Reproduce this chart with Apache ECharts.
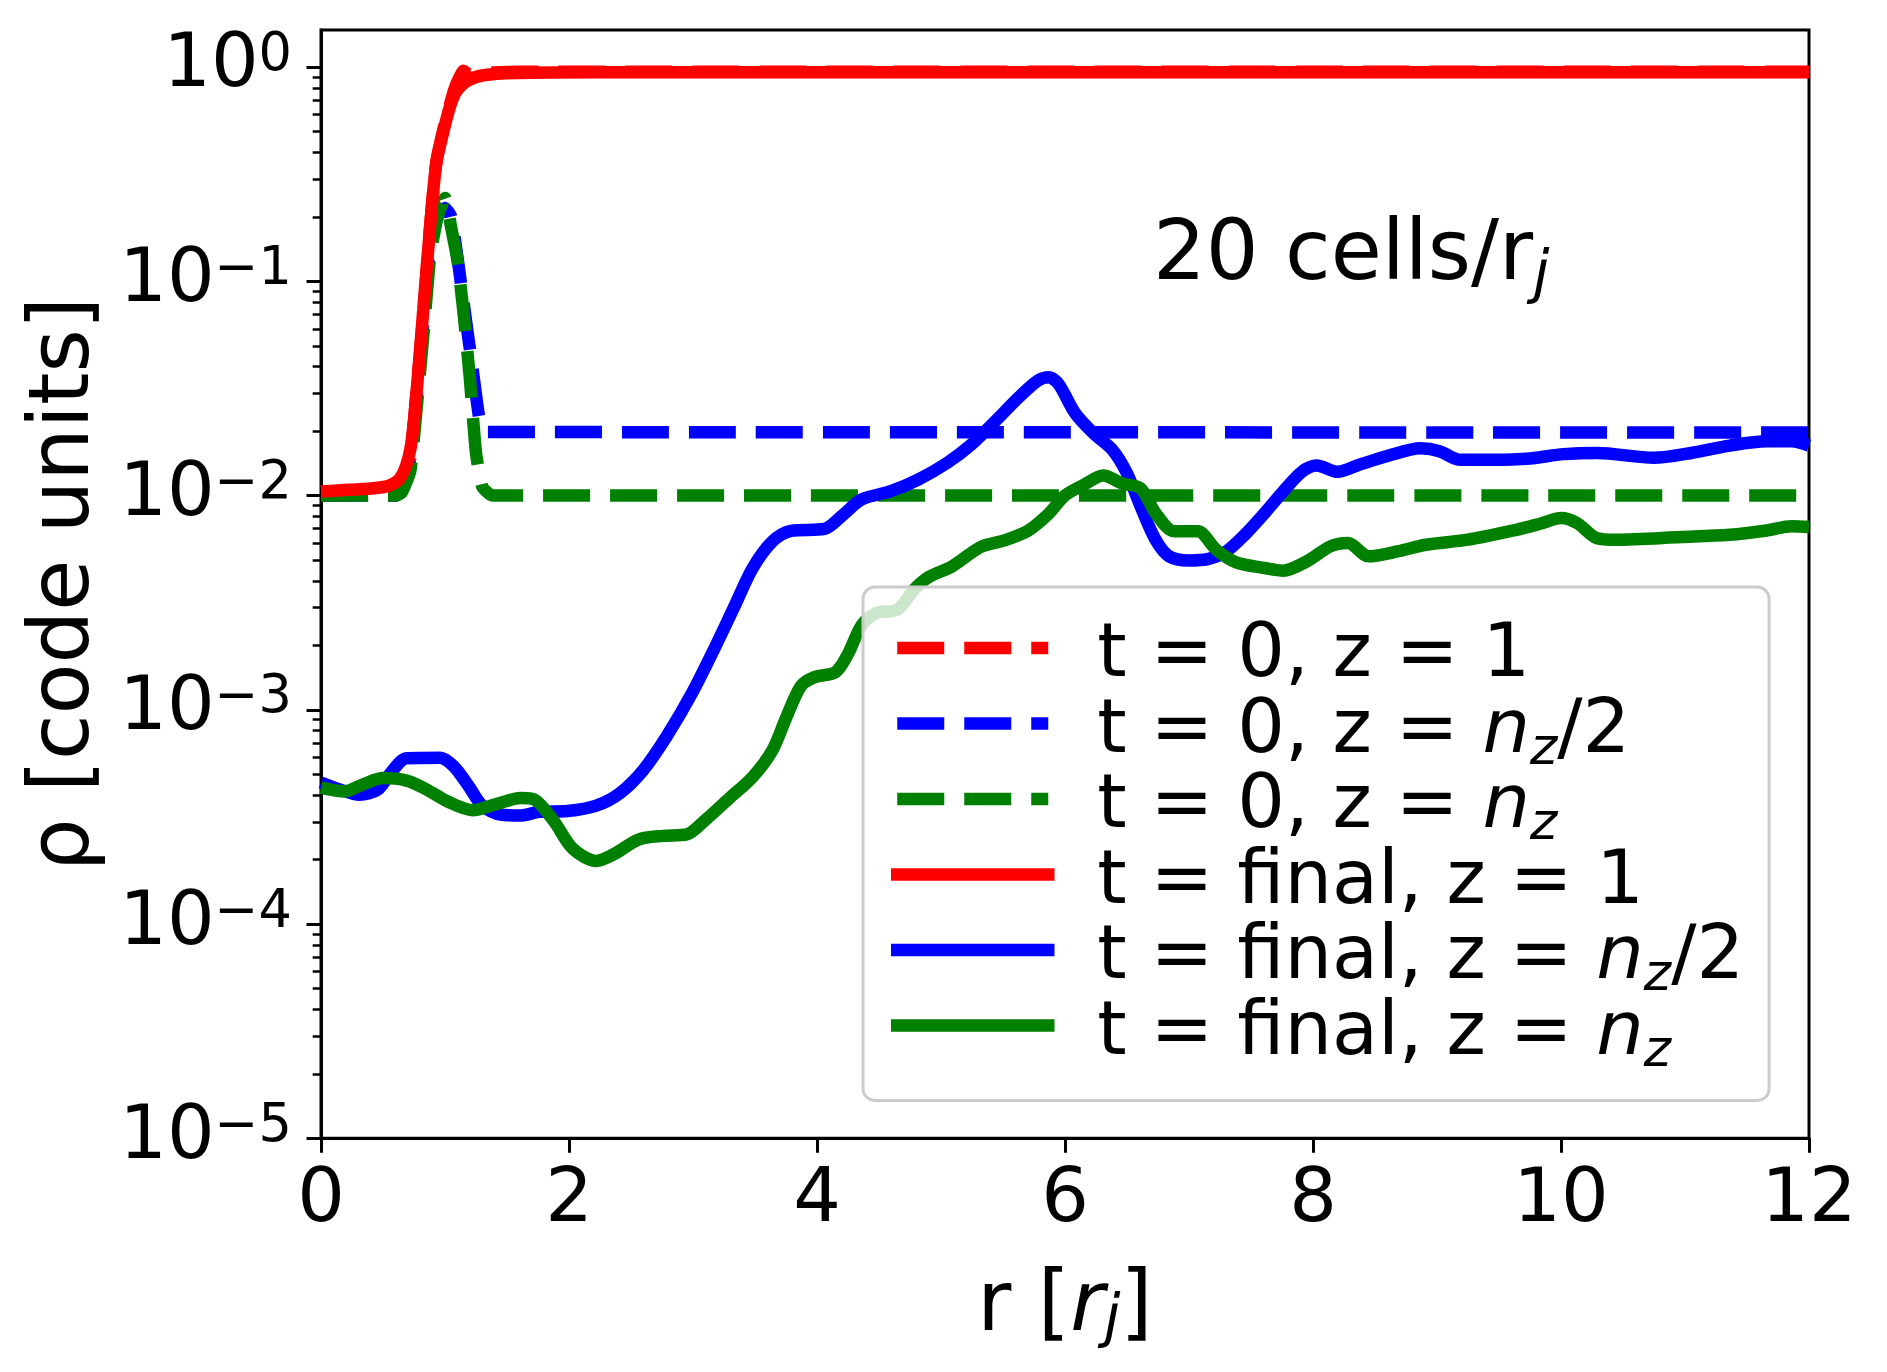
<!DOCTYPE html>
<html>
<head>
<meta charset="utf-8">
<script src="https://cdn.jsdelivr.net/npm/echarts@6/dist/echarts.min.js"></script>
<style>
html,body{margin:0;padding:0;background:#fff;}
#chart{width:1887px;height:1372px;}
</style>
</head>
<body>
<div id="chart"></div>
<script>
// ---------- data (r in r_j, rho in code units) ----------
const rRedInit   = [0, 0.6, 0.65, 0.72, 0.77, 0.83, 0.88, 0.93, 1.0, 1.08, 1.15, 1.2, 1.3, 1.6, 12];
const rhoRedInit = [0.0100, 0.0102, 0.0110, 0.0150, 0.0300, 0.0750, 0.180, 0.360, 0.550, 0.800, 0.960, 0.920, 0.940, 0.950, 0.950];

const rBlueInit   = [0, 0.6, 0.65, 0.72, 0.77, 0.83, 0.88, 0.94, 1.0, 1.05, 1.1, 1.15, 1.22, 1.28, 1.33, 12];
const rhoBlueInit = [0.01, 0.01, 0.0105, 0.015, 0.028, 0.07, 0.14, 0.2, 0.22, 0.2, 0.13, 0.079, 0.040, 0.0224, 0.0198, 0.0197];

const rGreenInit   = [0, 0.6, 0.65, 0.72, 0.77, 0.83, 0.88, 0.94, 1.0, 1.05, 1.1, 1.15, 1.2, 1.25, 1.3, 1.38, 12];
const rhoGreenInit = [0.01, 0.01, 0.0103, 0.013, 0.025, 0.06, 0.13, 0.2, 0.245, 0.178, 0.126, 0.0708, 0.0355, 0.0158, 0.011, 0.01, 0.01];

const rRedFinal   = [0, 0.23, 0.53, 0.64, 0.72, 0.77, 0.825, 0.88, 0.93, 0.99, 1.04, 1.09, 1.175, 1.31, 1.58, 2.25, 12];
const rhoRedFinal = [0.01045, 0.01064, 0.01104, 0.01208, 0.01637, 0.0302, 0.0736, 0.180, 0.356, 0.508, 0.653, 0.767, 0.860, 0.915, 0.938, 0.945, 0.945];

const rBlueFinal = [0, 0.15, 0.31, 0.46, 0.57, 0.69, 0.96, 1.07, 1.19, 1.30, 1.45, 1.61, 1.76, 1.99, 2.22, 2.41, 2.60, 2.79, 2.99, 3.18, 3.33, 3.48, 3.64, 3.79, 4.06, 4.21, 4.36, 4.59, 4.82, 5.05, 5.24, 5.43, 5.63, 5.78, 5.87, 5.95, 6.08, 6.23, 6.38, 6.50, 6.61, 6.73, 6.84, 7.0, 7.15, 7.30, 7.45, 7.61, 7.76, 7.91, 8.03, 8.20, 8.37, 8.60, 8.87, 9.02, 9.18, 9.44, 9.75, 10.02, 10.29, 10.75, 11.05, 11.36, 11.66, 11.86, 12.0];
const rhoBlueFinal = [4.58e-4, 4.25e-4, 4.01e-4, 4.25e-4, 5.14e-4, 5.94e-4, 5.98e-4, 5.45e-4, 4.41e-4, 3.57e-4, 3.24e-4, 3.21e-4, 3.34e-4, 3.37e-4, 3.57e-4, 4.08e-4, 5.24e-4, 7.55e-4, 1.19e-3, 1.97e-3, 3.00e-3, 4.57e-3, 6.10e-3, 6.84e-3, 6.98e-3, 8.13e-3, 9.59e-3, 1.045e-2, 1.19e-2, 1.42e-2, 1.72e-2, 2.20e-2, 2.88e-2, 3.43e-2, 3.56e-2, 3.30e-2, 2.43e-2, 1.95e-2, 1.64e-2, 1.27e-2, 8.89e-3, 6.22e-3, 5.20e-3, 4.98e-3, 5.05e-3, 5.48e-3, 6.56e-3, 8.28e-3, 1.045e-2, 1.29e-2, 1.38e-2, 1.29e-2, 1.39e-2, 1.53e-2, 1.66e-2, 1.61e-2, 1.47e-2, 1.47e-2, 1.49e-2, 1.56e-2, 1.58e-2, 1.50e-2, 1.58e-2, 1.71e-2, 1.79e-2, 1.79e-2, 1.71e-2];

const rGreenFinal = [0, 0.19, 0.34, 0.50, 0.69, 0.84, 1.03, 1.22, 1.42, 1.61, 1.72, 1.88, 2.03, 2.22, 2.37, 2.56, 2.76, 2.95, 3.10, 3.29, 3.48, 3.64, 3.75, 3.87, 3.98, 4.15, 4.25, 4.36, 4.48, 4.65, 4.78, 4.90, 5.09, 5.32, 5.51, 5.70, 5.86, 6.0, 6.15, 6.31, 6.46, 6.61, 6.73, 6.88, 7.07, 7.22, 7.38, 7.61, 7.76, 7.95, 8.14, 8.28, 8.45, 8.68, 8.91, 9.25, 9.64, 9.83, 10.0, 10.13, 10.29, 10.44, 10.97, 11.36, 11.66, 11.86, 12.0];
const rhoGreenFinal = [4.33e-4, 4.16e-4, 4.49e-4, 4.80e-4, 4.67e-4, 4.28e-4, 3.71e-4, 3.40e-4, 3.64e-4, 3.88e-4, 3.81e-4, 3.01e-4, 2.25e-4, 1.97e-4, 2.13e-4, 2.48e-4, 2.58e-4, 2.62e-4, 3.06e-4, 3.85e-4, 4.85e-4, 6.47e-4, 9.14e-4, 1.29e-3, 1.42e-3, 1.50e-3, 1.82e-3, 2.48e-3, 2.83e-3, 2.94e-3, 3.63e-3, 4.16e-3, 4.67e-3, 5.75e-3, 6.17e-3, 6.84e-3, 8.13e-3, 1.0e-2, 1.12e-2, 1.24e-2, 1.14e-2, 1.08e-2, 8.28e-3, 6.81e-3, 6.81e-3, 5.58e-3, 4.88e-3, 4.59e-3, 4.46e-3, 4.93e-3, 5.79e-3, 6.00e-3, 5.20e-3, 5.48e-3, 5.89e-3, 6.22e-3, 6.92e-3, 7.38e-3, 7.85e-3, 7.43e-3, 6.32e-3, 6.22e-3, 6.40e-3, 6.56e-3, 6.87e-3, 7.18e-3, 7.13e-3];

const seriesNames = ['t = 0, z = 1', 't = 0, z = nz/2', 't = 0, z = nz', 't = final, z = 1', 't = final, z = nz/2', 't = final, z = nz'];
const yMajorTicks = [1e-5, 1e-4, 1e-3, 1e-2, 1e-1, 1];
const yMinorTicks = [];
for (let e = -5; e <= 0; e++) { for (let k = 2; k <= 9; k++) { const v = k * Math.pow(10, e); if (v < 1.48) yMinorTicks.push(+v.toPrecision(3)); } }

// ---------- chart ----------
const FONT = 'DejaVu Sans';
const zip = (xs, ys) => xs.map((x, i) => [x, ys[i]]);
const DASH = [47, 20];
const LW = 12.5;

function mkSeries(name, xs, ys, color, dashed) {
  return {
    name: name, type: 'line', data: zip(xs, ys),
    showSymbol: false, symbol: 'none',
    smooth: dashed ? 0.15 : 0.3,
    lineStyle: { color: color, width: LW, type: dashed ? DASH : 'solid' },
    itemStyle: { color: color },
    emphasis: { disabled: true }, animation: false, clip: true
  };
}

const legendRich = {
  p: { width: 44 },
  t: { fontSize: 75, fontFamily: FONT, color: '#000', lineHeight: 75, padding: [18, 0, 0, 0] },
  i: { fontSize: 75, fontFamily: FONT, fontStyle: 'italic', color: '#000', lineHeight: 75, padding: [18, 0, 0, 0] },
  s: { fontSize: 52, fontFamily: FONT, fontStyle: 'italic', color: '#000', lineHeight: 40, height: 22, verticalAlign: 'bottom' }
};
const legendText = {
  't = 0, z = 1': '{p|}{t|t = 0, z = 1}',
  't = 0, z = nz/2': '{p|}{t|t = 0, z = }{i|n}{s|z}{t|/2}',
  't = 0, z = nz': '{p|}{t|t = 0, z = }{i|n}{s|z}',
  't = final, z = 1': '{p|}{t|t = final, z = 1}',
  't = final, z = nz/2': '{p|}{t|t = final, z = }{i|n}{s|z}{t|/2}',
  't = final, z = nz': '{p|}{t|t = final, z = }{i|n}{s|z}'
};

const chart = echarts.init(document.getElementById('chart'), null, { renderer: 'canvas' });
chart.setOption({
  animation: false,
  backgroundColor: '#fff',
  textStyle: { fontFamily: FONT },
  grid: { left: 321, top: 30, right: 78, bottom: 233.7, show: true, borderColor: '#000', borderWidth: 3, backgroundColor: 'transparent', outerBoundsMode: 'none', containLabel: false },
  xAxis: {
    type: 'value', min: 0, max: 12, interval: 2,
    axisLine: { show: true, lineStyle: { color: '#000', width: 3 } },
    axisTick: { show: true, length: 14.5, lineStyle: { color: '#000', width: 3 } },
    axisLabel: { fontSize: 75, fontFamily: FONT, color: '#000', margin: 26, showMaxLabel: true, showMinLabel: true },
    splitLine: { show: false },
    name: '{n|r [}{i|r}{s|j}{n|]}', nameLocation: 'middle', nameGap: 129,
    nameTextStyle: {
      rich: {
        n: { fontSize: 83, fontFamily: FONT, color: '#000', lineHeight: 83 },
        i: { fontSize: 83, fontFamily: FONT, fontStyle: 'italic', color: '#000', lineHeight: 83 },
        s: { fontSize: 58, fontFamily: FONT, fontStyle: 'italic', color: '#000', lineHeight: 48, verticalAlign: 'bottom' }
      }
    }
  },
  yAxis: [{
    type: 'log', logBase: 10, min: 1e-5, max: 1.4884,
    axisLine: { show: true, lineStyle: { color: '#000', width: 3 } },
    axisTick: { show: true, length: 14.5, lineStyle: { color: '#000', width: 3 }, customValues: yMajorTicks },
    axisLabel: {
      customValues: yMajorTicks, margin: 29,
      formatter: function (v) {
        const e = Math.round(Math.log10(v));
        if (Math.abs(Math.log10(v) - e) > 1e-6) return '';
        return '{b|10}{s|' + (e < 0 ? '\u2212' + (-e) : '' + e) + '}';
      },
      rich: {
        b: { fontSize: 75, fontFamily: FONT, color: '#000', lineHeight: 75 },
        s: { fontSize: 52.5, fontFamily: FONT, color: '#000', lineHeight: 29, verticalAlign: 'top' }
      }
    },
    splitLine: { show: false }, minorTick: { show: false },
    name: '\u03c1 [code units]', nameLocation: 'middle', nameGap: 212,
    nameTextStyle: { fontSize: 83, fontFamily: FONT, color: '#000' }
  }, {
    type: 'log', logBase: 10, min: 1e-5, max: 1.4884, position: 'left',
    axisLine: { show: false },
    axisTick: { show: true, length: 8.3, lineStyle: { color: '#000', width: 2.5 }, customValues: yMinorTicks },
    axisLabel: { show: false },
    splitLine: { show: false }
  }],
  legend: {
    orient: 'vertical', left: 863, top: 587,
    padding: [5, 25, 19, 28],
    itemWidth: 151, itemHeight: 140, itemGap: -36.5,
    backgroundColor: 'rgba(255,255,255,0.8)', borderColor: '#cccccc', borderWidth: 3, borderRadius: 12,
    lineStyle: { width: 'inherit' },
    itemStyle: { opacity: 0, borderWidth: 0 },
    data: seriesNames.map((n, i) => i < 3 ? { name: n } : { name: n, lineStyle: { cap: 'square' } }),
    formatter: function (name) { return legendText[name]; },
    textStyle: { rich: legendRich },
    selectedMode: false
  },
  graphic: [{
    type: 'text', left: 1153, top: 216, z: 100,
    style: {
      text: '20 cells/r{s|j}', fontSize: 83, fontFamily: FONT, fill: '#000',
      rich: { s: { fontSize: 58, fontFamily: FONT, fontStyle: 'italic', fill: '#000', lineHeight: 48, height: 44, verticalAlign: 'bottom' } }
    }
  }],
  series: [
    mkSeries(seriesNames[0], rRedInit, rhoRedInit, '#ff0000', true),
    mkSeries(seriesNames[1], rBlueInit, rhoBlueInit, '#0000ff', true),
    mkSeries(seriesNames[2], rGreenInit, rhoGreenInit, '#008000', true),
    mkSeries(seriesNames[3], rRedFinal, rhoRedFinal, '#ff0000', false),
    mkSeries(seriesNames[4], rBlueFinal, rhoBlueFinal, '#0000ff', false),
    mkSeries(seriesNames[5], rGreenFinal, rhoGreenFinal, '#008000', false)
  ]
});
</script>
</body>
</html>
